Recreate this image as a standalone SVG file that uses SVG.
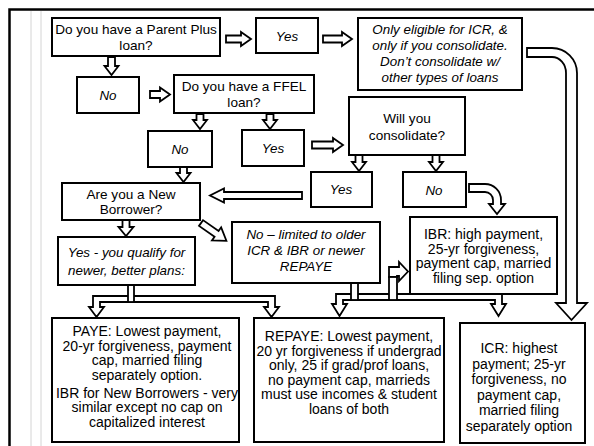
<svg xmlns="http://www.w3.org/2000/svg" width="594" height="446" viewBox="0 0 594 446">
<style>
.box{fill:#fff;stroke:#000;stroke-width:2}
.arr{fill:#fff;stroke:#000;stroke-width:1.8;stroke-linejoin:miter}
text{font-family:"Liberation Sans",Arial,sans-serif;font-size:13.6px;text-anchor:middle;fill:#000}
.i{font-style:italic;font-size:13.4px}
.b{font-size:14px}
</style>
<rect width="594" height="446" fill="#fff"/>
<g id="frame">
<path d="M9.5,446 V9.5 H594" fill="none" stroke="#000" stroke-width="2.5"/>
<line x1="31" y1="11" x2="31" y2="446" stroke="#d4d4d4" stroke-width="1"/>
<line x1="41" y1="11" x2="41" y2="446" stroke="#d4d4d4" stroke-width="1"/>
</g>

<g id="connectors">
<path class="arr" d="M226,35.5 H241 V32 L251,39 L241,46 V42.5 H226 Z"/>
<path class="arr" d="M323,35.5 H342 V32 L352,39 L342,46 V42.5 H323 Z"/>
<path class="arr" d="M108,57 V66 H104.5 L111.5,75 L118.5,66 H115 V57 Z"/>
<path class="arr" d="M150,91 H160 V87.5 L170,94.5 L160,101.5 V98 H150 Z"/>
<path class="arr" d="M196.5,114 V120 H193 L200,129 L207,120 H203.5 V114 Z"/>
<path class="arr" d="M266.5,114 V120 H263 L270,129 L277,120 H273.5 V114 Z"/>
<path class="arr" d="M312,141.5 H333 V138 L343,145 L333,152 V148.5 H312 Z"/>
<path class="arr" d="M355.5,155 V162 H352 L359,171 L366,162 H362.5 V155 Z"/>
<path class="arr" d="M432.5,155 V162 H429 L436,171 L443,162 H439.5 V155 Z"/>
<path class="arr" d="M180,167 V173 H176.5 L183.5,182 L190.5,173 H187 V167 Z"/>
<path class="arr" d="M302,192 H224 V188.5 L210,195.5 L224,202.5 V199 H302 Z"/>
<path class="arr" d="M0,-3.5 H19 V-8 L31,0 L19,8 V3.5 H0 Z" transform="translate(201,223) rotate(35)"/>
<path class="arr" d="M122.5,220 V227 H118.5 L126,236 L133.5,227 H129.5 V220 Z"/>
<path class="arr" d="M469,184 H485 A16,16 0 0 1 501,200 V204 H505 L497,214 L489,204 H493 V200 A8,8 0 0 0 485,192 H469 Z"/>
<path class="arr" d="M527,48 H552 A25,25 0 0 1 577,73 V303 H587 L571.5,320 L556,303 H566 V73 A14,16 0 0 0 552,57 H527 Z"/>
<path class="arr" d="M128,296 H93 V307 H89 L96.5,317 L104,307 H100 V302 H268 V307 H264 L271.5,317 L279,307 H275 V296 Z"/>
<rect class="arr" x="128" y="285" width="6" height="17"/>
<path class="arr" d="M351,294 H336 V304 H332 L339.5,316 L347,304 H343 V300 H495 V304 H491 L498.5,316 L506,304 H502 V294 Z"/>
<rect class="arr" x="351" y="283" width="7" height="17"/>
<path class="arr" d="M389,277 V267 H399 V262 L408,271.5 L399,281 V276 H397 V277 Z"/>
<rect class="arr" x="389" y="277" width="8" height="23"/>
</g>

<g id="parentplus">
<rect class="box" x="52" y="18" width="168" height="38"/>
<text x="136" y="34">Do you have a Parent Plus</text>
<text x="136" y="49.5">loan?</text>
</g>
<g id="yes1">
<rect class="box" x="256" y="18" width="62" height="35"/>
<text class="i" x="287" y="41">Yes</text>
</g>
<g id="onlyicr">
<rect class="box" x="358" y="18" width="164" height="72"/>
<text class="i" x="440" y="33.5">Only eligible for ICR, &amp;</text>
<text class="i" x="440" y="49.5">only if you consolidate.</text>
<text class="i" x="440" y="65.5">Don’t consolidate w/</text>
<text class="i" x="440" y="81.5">other types of loans</text>
</g>
<g id="no1">
<rect class="box" x="77" y="77" width="62" height="36"/>
<text class="i" x="108" y="100">No</text>
</g>
<g id="ffel">
<rect class="box" x="174" y="75" width="140" height="38"/>
<text x="244" y="91">Do you have a FFEL</text>
<text x="244" y="106.5">loan?</text>
</g>
<g id="no2">
<rect class="box" x="148" y="131" width="64" height="36"/>
<text class="i" x="180" y="154">No</text>
</g>
<g id="yes2">
<rect class="box" x="242" y="130" width="62" height="36"/>
<text class="i" x="273" y="153">Yes</text>
</g>
<g id="consolidate">
<rect class="box" x="349" y="97" width="116" height="58"/>
<text x="407" y="123">Will you</text>
<text x="407" y="139.5">consolidate?</text>
</g>
<g id="yes3">
<rect class="box" x="311" y="172" width="61" height="35"/>
<text class="i" x="341" y="194">Yes</text>
</g>
<g id="no3">
<rect class="box" x="403" y="172" width="63" height="35"/>
<text class="i" x="434" y="195">No</text>
</g>
<g id="newborrower">
<rect class="box" x="62" y="183" width="138" height="37"/>
<text x="131" y="199">Are you a New</text>
<text x="131" y="214">Borrower?</text>
</g>
<g id="qualify">
<rect class="box" x="58" y="237" width="137" height="48"/>
<text class="i" x="126.5" y="257">Yes - you qualify for</text>
<text class="i" x="126.5" y="275">newer, better plans:</text>
</g>
<g id="limited">
<rect class="box" x="232" y="222" width="148" height="61"/>
<text class="i" x="306" y="239">No – limited to older</text>
<text class="i" x="306" y="255">ICR &amp; IBR or newer</text>
<text class="i" x="306" y="271">REPAYE</text>
</g>
<g id="ibr">
<rect class="box" x="410" y="217" width="147" height="77"/>
<text class="b" x="483.5" y="239">IBR: high payment,</text>
<text class="b" x="483.5" y="253.5">25-yr forgiveness,</text>
<text class="b" x="483.5" y="268">payment cap, married</text>
<text class="b" x="483.5" y="282.5">filing sep. option</text>
</g>
<g id="paye">
<rect class="box" x="52" y="318" width="187" height="124"/>
<text class="b" x="147" y="335.5">PAYE: Lowest payment,</text>
<text class="b" x="147" y="350.5">20-yr forgiveness,  payment</text>
<text class="b" x="147" y="365">cap, married filing</text>
<text class="b" x="147" y="380">separately option.</text>
<text class="b" x="147" y="397.5">IBR for New Borrowers - very</text>
<text class="b" x="147" y="412">similar except no cap on</text>
<text class="b" x="147" y="426.5">capitalized interest</text>
</g>
<g id="repaye">
<rect class="box" x="254" y="318" width="190" height="124"/>
<text class="b" x="349" y="341">REPAYE: Lowest payment,</text>
<text class="b" x="349" y="355.5">20 yr forgiveness if undergrad</text>
<text class="b" x="349" y="370">only, 25 if grad/prof loans,</text>
<text class="b" x="349" y="384.5">no payment cap, marrieds</text>
<text class="b" x="349" y="399">must use incomes &amp; student</text>
<text class="b" x="349" y="413.5">loans of both</text>
</g>
<g id="icr">
<rect class="box" x="460" y="323" width="125" height="120"/>
<text class="b" x="519" y="353">ICR: highest</text>
<text class="b" x="519" y="368.5">payment; 25-yr</text>
<text class="b" x="519" y="384">forgiveness, no</text>
<text class="b" x="519" y="399.5">payment cap,</text>
<text class="b" x="519" y="415">married filing</text>
<text class="b" x="519" y="430.5">separately option</text>
</g>
</svg>
